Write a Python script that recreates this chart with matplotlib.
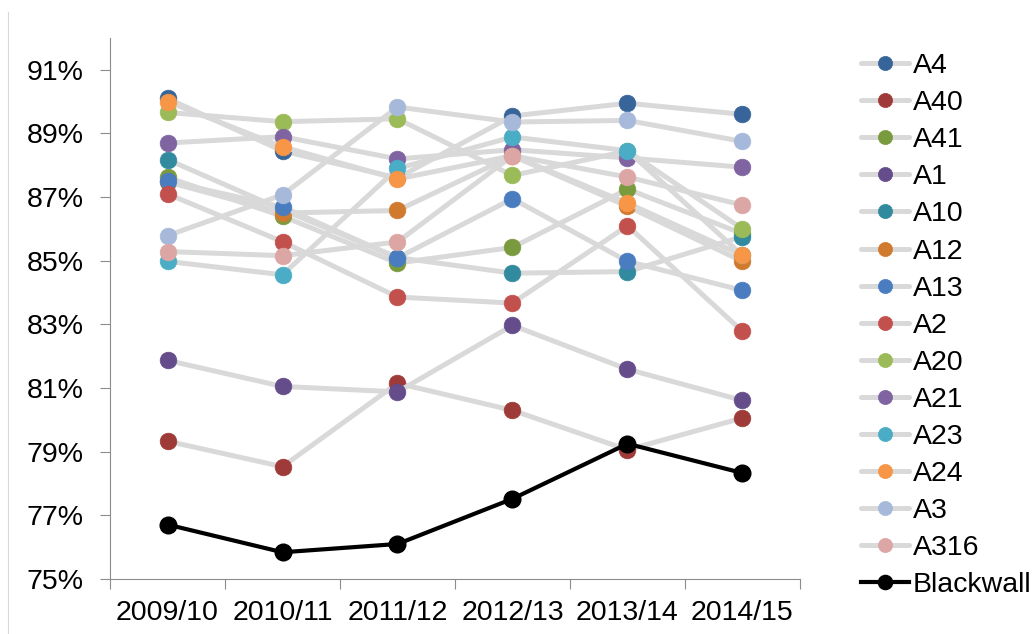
import matplotlib
matplotlib.use('Agg')
import matplotlib.pyplot as plt
from matplotlib.lines import Line2D
from matplotlib.ticker import FixedLocator, FuncFormatter

plt.rcParams['font.family'] = ['Liberation Sans', 'DejaVu Sans']

years = ['2009/10', '2010/11', '2011/12', '2012/13', '2013/14', '2014/15']

# percentage per school year, one list per area
a4 = [90.1, 88.45, 87.6, 89.55, 89.95, 89.6]
a40 = [79.33, 78.53, 81.15, 80.3, 79.06, 80.06]
a41 = [87.62, 86.4, 84.93, 85.42, 87.25, 85.85]
a1 = [81.87, 81.05, 80.88, 82.97, 81.59, 80.61]
a10 = [88.18, 86.6, 85.1, 84.61, 84.66, 85.76]
a12 = [87.48, 86.5, 86.58, 88.3, 86.71, 84.98]
a13 = [87.5, 86.69, 85.09, 86.95, 84.98, 84.07]
a2 = [87.1, 85.6, 83.86, 83.67, 86.1, 82.78]
a20 = [89.66, 89.37, 89.46, 87.68, 88.45, 86.0]
a21 = [88.7, 88.9, 88.2, 88.49, 88.23, 87.94]
a23 = [84.98, 84.56, 87.9, 88.89, 88.46, 85.17]
a24 = [90.0, 88.58, 87.57, 88.3, 86.81, 85.17]
a3 = [85.79, 87.07, 89.83, 89.36, 89.41, 88.75]
a316 = [85.29, 85.16, 85.59, 88.3, 87.63, 86.75]
blackwall = [76.71, 75.84, 76.1, 77.52, 79.25, 78.33]

names = ['A4', 'A40', 'A41', 'A1', 'A10', 'A12', 'A13', 'A2', 'A20',
         'A21', 'A23', 'A24', 'A3', 'A316']
series = [a4, a40, a41, a1, a10, a12, a13, a2, a20, a21, a23, a24, a3, a316]
colors = ['#386599', '#9E3A37', '#7A9A3E', '#654C8A', '#328A9E', '#D07A30',
          '#4A7DC0', '#C2504D', '#9BBB59', '#8064A2', '#4BACC6', '#F79646',
          '#A7B9DA', '#DCA6A5']

fs = 20.5

fig = plt.figure(figsize=(10.32, 6.34), dpi=100)
ax = fig.add_axes([110 / 1032, 55 / 634, 690 / 1032, 541 / 634])

x = list(range(len(years)))
grey = '#D9D9D9'
for name, vals, col in zip(names, series, colors):
    ax.plot(x, vals, color=grey, lw=3.6, solid_capstyle='round',
            marker='o', ms=12, mfc=col, mec=col, mew=0.5, label=name, zorder=2)
ax.plot(x, blackwall, color='black', lw=3, marker='o', ms=12,
        mfc='black', mec='black', label='Blackwall', zorder=3)

# axes, Excel-like category axis with ticks between categories
ax.set_xlim(-0.5, 5.5)
ax.set_ylim(75, 92)
ax.set_yticks(range(75, 92, 2))
ax.yaxis.set_major_formatter(FuncFormatter(lambda v, p: '%d%%' % v))
ax.xaxis.set_major_locator(FixedLocator([i - 0.5 for i in range(7)]))
ax.xaxis.set_major_formatter(FuncFormatter(lambda v, p: ''))
ax.xaxis.set_minor_locator(FixedLocator(x))
ax.set_xticklabels(years, minor=True)
ax.tick_params(axis='x', which='minor', length=0, pad=15, labelsize=fs)
ax.tick_params(axis='x', which='major', length=7, width=0.8, color='#8C8C8C',
               direction='out')
ax.tick_params(axis='y', length=7, width=0.8, color='#8C8C8C', pad=12,
               labelsize=fs)
for s in ['top', 'right']:
    ax.spines[s].set_visible(False)
for s in ['left', 'bottom']:
    ax.spines[s].set_color('#8C8C8C')
    ax.spines[s].set_linewidth(0.8)

handles, labels = ax.get_legend_handles_labels()
leg = fig.legend(handles, labels, loc='upper left',
                 bbox_to_anchor=(861 / 1032, 1 - 53 / 634), frameon=False,
                 fontsize=fs, handlelength=1.7, handletextpad=0.12,
                 labelspacing=0.39, borderpad=0, borderaxespad=0,
                 markerscale=0.85)

# thin border line on the left edge of the chart area
fig.add_artist(Line2D([8 / 1032, 8 / 1032], [0, 1 - 12 / 634],
                      color='#D9D9D9', lw=0.8))

fig.savefig('out.png', dpi=100)
